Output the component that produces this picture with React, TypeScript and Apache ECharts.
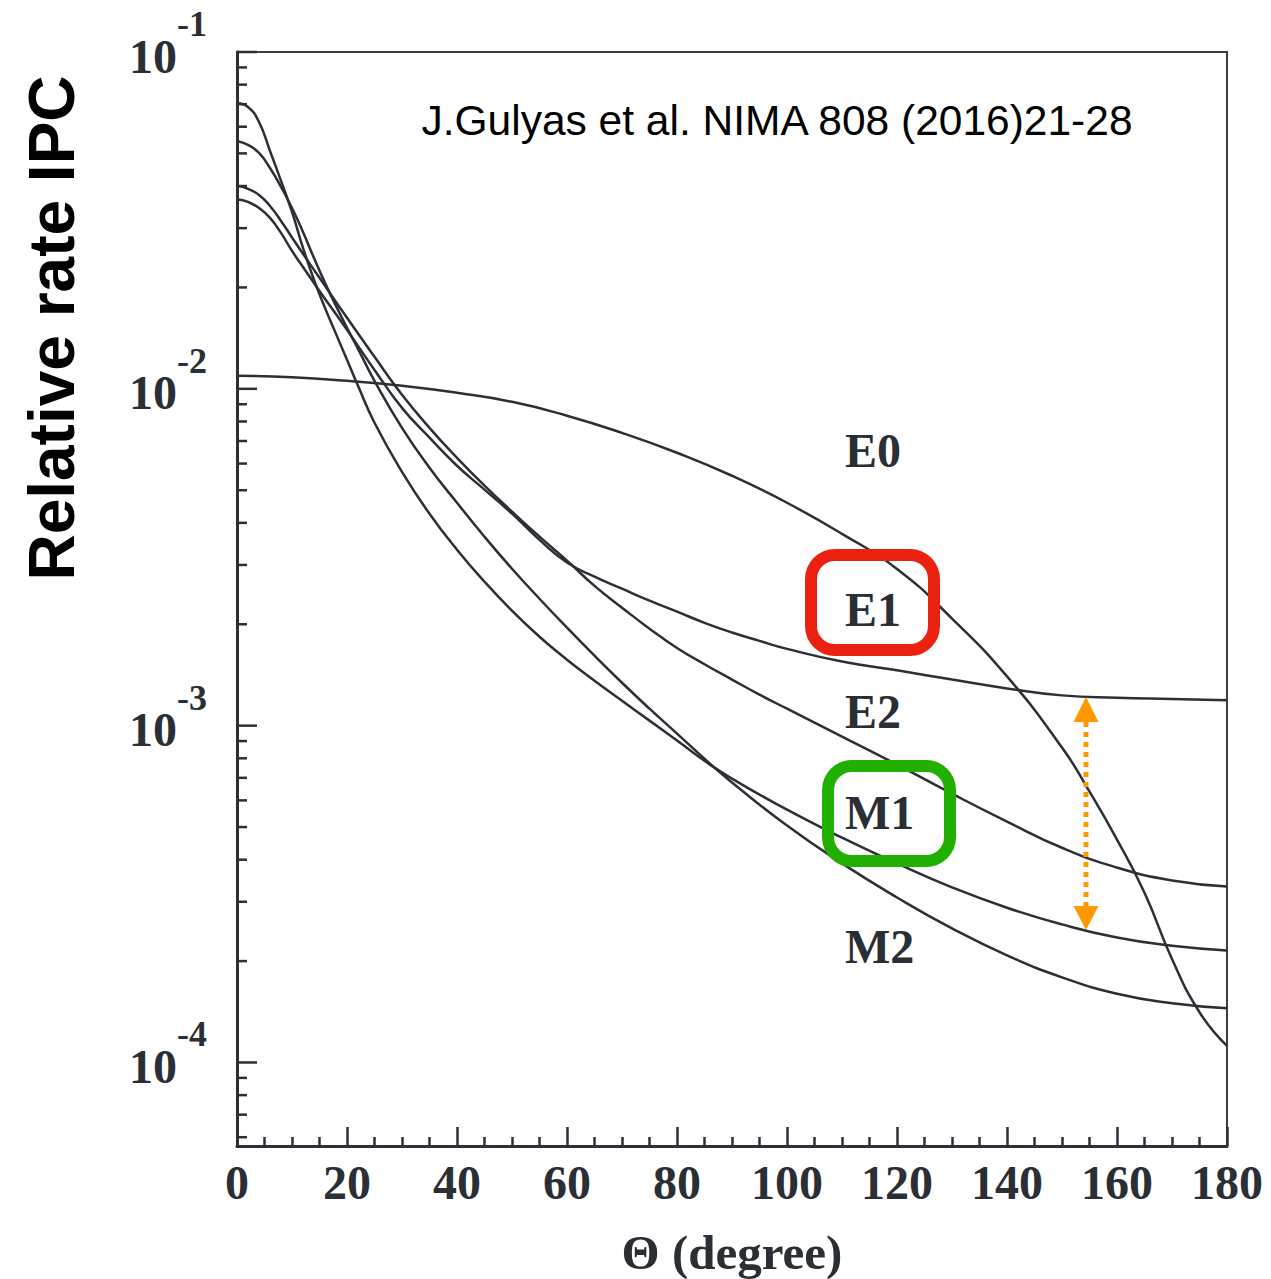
import React, { useEffect, useRef } from 'react';
import * as echarts from 'echarts';

// ---- data (theta in degrees, relative IPC rate) ----
const anglesE0 = [0, 10, 20, 30, 40, 50, 60, 70, 80, 90, 100, 110, 120, 130, 140, 150, 155, 160, 165, 170, 175, 180];
const valuesE0 = [0.01093, 0.01082, 0.01056, 0.01021, 0.00973, 0.00915, 0.00832, 0.0074, 0.00646, 0.00552, 0.00459, 0.00371, 0.00292, 0.00208, 0.0014, 0.000861, 0.000637, 0.000459, 0.000319, 0.000203, 0.000141, 0.000112];

const anglesE1 = [0, 2, 4, 6, 8, 10, 12, 15, 20, 25, 30, 35, 40, 45, 50, 55, 60, 65, 70, 75, 80, 85, 90, 95, 100, 110, 120, 130, 140, 150, 160, 170, 180];
const valuesE1 = [0.03655, 0.03588, 0.03444, 0.03217, 0.02903, 0.02567, 0.02301, 0.01953, 0.01496, 0.01138, 0.00878, 0.00716, 0.00591, 0.00502, 0.00426, 0.00356, 0.00305, 0.00277, 0.00255, 0.00235, 0.00218, 0.00202, 0.00189, 0.001785, 0.00169, 0.00155, 0.00146, 0.00137, 0.00129, 0.00123, 0.00121, 0.0012, 0.00119];

const anglesE2 = [0, 2, 4, 6, 8, 10, 12, 15, 20, 25, 30, 35, 40, 45, 50, 55, 60, 65, 70, 75, 80, 85, 90, 95, 100, 110, 120, 130, 140, 150, 160, 170, 180];
const valuesE2 = [0.04011, 0.03923, 0.03765, 0.03491, 0.03151, 0.02815, 0.02516, 0.02136, 0.01625, 0.01245, 0.0096, 0.00766, 0.00624, 0.00516, 0.00432, 0.00364, 0.00309, 0.0026, 0.00224, 0.00194, 0.0017, 0.001522, 0.00137, 0.001236, 0.001123, 0.000928, 0.000766, 0.000628, 0.000519, 0.000434, 0.000379, 0.000347, 0.000333];

const anglesM1 = [0, 2, 4, 6, 8, 10, 12, 14, 16, 18, 20, 22, 25, 30, 35, 40, 45, 50, 55, 60, 65, 70, 75, 80, 86, 90, 100, 110, 120, 130, 140, 150, 160, 170, 180];
const valuesM1 = [0.07044, 0.06866, 0.06198, 0.05084, 0.04142, 0.03351, 0.02621, 0.02106, 0.01739, 0.01456, 0.01219, 0.01021, 0.00793, 0.005671, 0.004257, 0.00333, 0.002675, 0.002194, 0.001837, 0.00157, 0.00136, 0.001186, 0.001035, 0.000903, 0.000766, 0.000696, 0.000563, 0.000465, 0.00039, 0.000331, 0.000288, 0.000257, 0.000235, 0.000222, 0.000215];

const anglesM2 = [0, 2, 4, 6, 8, 10, 12, 14, 16, 18, 20, 22, 25, 30, 35, 40, 45, 50, 55, 60, 65, 70, 75, 80, 86, 90, 100, 110, 120, 130, 140, 150, 160, 170, 180];
const valuesM2 = [0.05443, 0.05297, 0.05014, 0.04524, 0.03975, 0.03444, 0.02922, 0.02446, 0.02063, 0.01763, 0.01517, 0.01314, 0.01056, 0.00766, 0.005829, 0.004588, 0.003637, 0.002923, 0.002381, 0.001953, 0.001613, 0.001341, 0.001123, 0.000947, 0.000771, 0.000678, 0.000505, 0.00039, 0.000309, 0.00025, 0.000208, 0.000179, 0.00016, 0.00015, 0.000145];

const xTickLabels = ['0', '20', '40', '60', '80', '100', '120', '140', '160', '180'];
const yMajorTicks = [1e-4, 1e-3, 1e-2, 1e-1];
const yMinorTicks = [
  6e-5, 7e-5, 8e-5, 9e-5,
  2e-4, 3e-4, 4e-4, 5e-4, 6e-4, 7e-4, 8e-4, 9e-4,
  2e-3, 3e-3, 4e-3, 5e-3, 6e-3, 7e-3, 8e-3, 9e-3,
  2e-2, 3e-2, 4e-2, 5e-2, 6e-2, 7e-2, 8e-2, 9e-2,
];

const curveLabels = ['E0', 'E1', 'E2', 'M1', 'M2'];
const annotation = 'J.Gulyas et al. NIMA 808 (2016)21-28';

const INK = '#2b2f36';
const SERIF = '"Liberation Serif", "Times New Roman", serif';
const SANS = '"Liberation Sans", Arial, sans-serif';

const pairs = (a: number[], v: number[]) => a.map((x, i) => [x, v[i]]);

export default function App() {
  const ref = useRef<HTMLDivElement>(null);

  useEffect(() => {
    if (!ref.current) return;
    const chart = echarts.init(ref.current, undefined, { renderer: 'svg' });

    const curve = (name: string, data: number[][]) => ({
      name,
      type: 'line',
      data,
      showSymbol: false,
      symbol: 'none',
      smooth: 0.5,
      lineStyle: { color: INK, width: 2.5 },
      silent: true,
      z: 3,
    });

    const yTickData = [
      ...yMajorTicks.map((v) => [0, v, 1]),
      ...yMinorTicks.map((v) => [0, v, 0]),
    ];

    const labelYs = [450, 609, 711, 812, 946];

    chart.setOption({
      animation: false,
      backgroundColor: '#ffffff',
      grid: {
        left: 237,
        top: 52,
        width: 990,
        height: 1094,
        show: true,
        borderColor: '#3a3e45',
        borderWidth: 2,
        backgroundColor: 'transparent',
        outerBoundsMode: 'none',
        containLabel: false,
      },
      xAxis: {
        type: 'value',
        min: 0,
        max: 180,
        interval: 20,
        axisLine: { show: true, lineStyle: { color: INK, width: 3 } },
        axisTick: { show: true, inside: true, length: 19, lineStyle: { color: INK, width: 2.5 } },
        minorTick: { show: true, splitNumber: 4, length: 9, lineStyle: { color: INK, width: 2.5 } },
        splitLine: { show: false },
        minorSplitLine: { show: false },
        axisLabel: {
          margin: 12,
          color: '#2a2e35',
          fontFamily: SERIF,
          fontWeight: 'bold',
          fontSize: 48,
          formatter: (v: number) => xTickLabels[Math.round(v / 20)] ?? '',
        },
        name: 'Θ (degree)',
        nameLocation: 'middle',
        nameGap: 82,
        nameTextStyle: { color: '#2a2e35', fontFamily: SERIF, fontWeight: 'bold', fontSize: 49 },
      },
      yAxis: {
        type: 'log',
        logBase: 10,
        min: 5.65e-5,
        max: 0.1,
        axisLine: { show: true, lineStyle: { color: INK, width: 3 } },
        axisTick: { show: false },
        minorTick: { show: false },
        splitLine: { show: false },
        axisLabel: {
          margin: 30,
          formatter: (v: number) => {
            const l = Math.log10(v);
            const e = Math.round(l);
            if (Math.abs(l - e) > 1e-6) return '';
            return `{a|10}{b|${e}}`;
          },
          rich: {
            a: {
              fontFamily: SERIF,
              fontWeight: 'bold',
              fontSize: 48,
              color: '#2a2e35',
              padding: [0, 0, 18, 0],
              verticalAlign: 'bottom',
            },
            b: {
              fontFamily: SERIF,
              fontWeight: 'bold',
              fontSize: 36,
              color: '#2a2e35',
              padding: [0, 0, 56, 0],
              verticalAlign: 'bottom',
            },
          },
        },
      },
      series: [
        curve('E0', pairs(anglesE0, valuesE0)),
        curve('E1', pairs(anglesE1, valuesE1)),
        curve('E2', pairs(anglesE2, valuesE2)),
        curve('M1', pairs(anglesM1, valuesM1)),
        curve('M2', pairs(anglesM2, valuesM2)),
        {
          type: 'custom',
          name: 'yticks',
          data: yTickData,
          encode: { x: 0, y: 1 },
          clip: false,
          silent: true,
          z: 4,
          renderItem: (params: any, api: any) => {
            const v = api.value(1);
            const major = api.value(2) === 1;
            const p = api.coord([0, v]);
            const len = major ? 20 : 10;
            return {
              type: 'line',
              shape: { x1: p[0], y1: p[1], x2: p[0] + len, y2: p[1] },
              style: { stroke: INK, lineWidth: 2.5 },
            };
          },
        },
      ],
      graphic: [
        {
          type: 'text',
          x: 52,
          y: 328,
          rotation: Math.PI / 2,
          z: 100,
          style: {
            text: 'Relative rate IPC',
            fill: '#000',
            fontFamily: SANS,
            fontWeight: 'bold',
            fontSize: 64,
            align: 'center',
            verticalAlign: 'middle',
          },
        },
        {
          type: 'text',
          x: 777,
          y: 120,
          z: 100,
          style: {
            text: annotation,
            fill: '#000',
            fontFamily: SANS,
            fontSize: 42.5,
            align: 'center',
            verticalAlign: 'middle',
          },
        },
        ...curveLabels.map((t, i) => ({
          type: 'text',
          x: 845,
          y: labelYs[i],
          z: 100,
          style: {
            text: t,
            fill: '#2a2e35',
            fontFamily: SERIF,
            fontWeight: 'bold',
            fontSize: 48,
            align: 'left',
            verticalAlign: 'middle',
          },
        })),
        {
          type: 'rect',
          z: 101,
          shape: { x: 811, y: 555, width: 123, height: 95, r: 24 },
          style: { fill: 'none', stroke: '#ec2211', lineWidth: 12 },
        },
        {
          type: 'rect',
          z: 101,
          shape: { x: 828, y: 766, width: 122, height: 95, r: 24 },
          style: { fill: 'none', stroke: '#22b000', lineWidth: 12 },
        },
        {
          type: 'line',
          z: 101,
          shape: { x1: 1086, y1: 722, x2: 1086, y2: 906 },
          style: { stroke: '#ff9800', lineWidth: 5, lineDash: [5, 5] },
        },
        {
          type: 'polygon',
          z: 101,
          shape: { points: [[1086, 697], [1073.5, 722], [1098.5, 722]] },
          style: { fill: '#ff9800' },
        },
        {
          type: 'polygon',
          z: 101,
          shape: { points: [[1086, 930], [1073.5, 906], [1098.5, 906]] },
          style: { fill: '#ff9800' },
        },
      ],
    });

    return () => chart.dispose();
  }, []);

  return (
    <div
      ref={ref}
      style={{ position: 'absolute', left: 0, top: 0, width: 1271, height: 1279, background: '#fff' }}
    />
  );
}
